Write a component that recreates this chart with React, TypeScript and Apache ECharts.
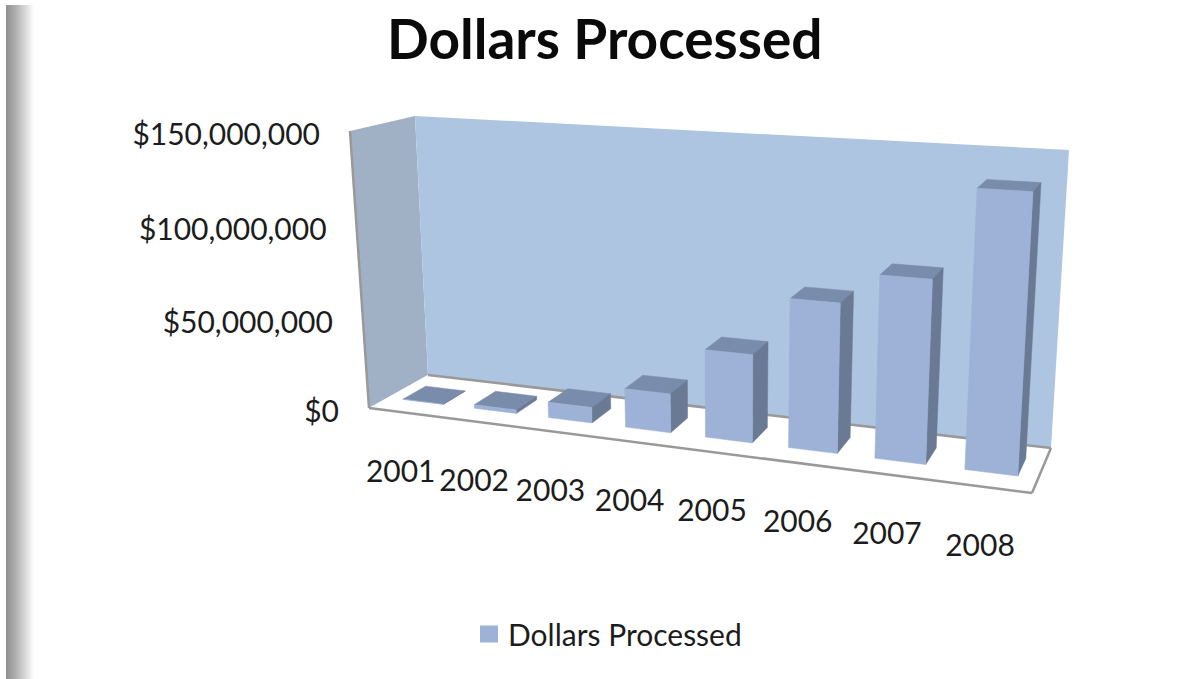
import React, { useEffect, useRef } from "react";
import * as echarts from "echarts";

const categories = ["2001", "2002", "2003", "2004", "2005", "2006", "2007", "2008"];
const dollarsProcessed = [100000, 2000000, 8500000, 21000000, 46500000, 77000000, 92500000, 137000000];
const valueTicks = [0, 50000000, 100000000, 150000000];
const valueTickLabels = ["$0", "$50,000,000", "$100,000,000", "$150,000,000"];
const seriesName = "Dollars Processed";

type Pt = [number, number];
const FRONT: Pt[] = [[369, 408], [1032, 493], [1050, 171], [350, 131]];
const BACK: Pt[] = [[428, 375], [1051, 448], [1069, 150], [415, 116]];
const GRID = { left: 100, top: 100, width: 800, height: 400 };
const FONT = "Lato, 'Open Sans', sans-serif";

function homography(q: Pt[]) {
  const [[x0, y0], [x1, y1], [x2, y2], [x3, y3]] = q;
  const dx1 = x1 - x2, dx2 = x3 - x2, sx = x0 - x1 + x2 - x3;
  const dy1 = y1 - y2, dy2 = y3 - y2, sy = y0 - y1 + y2 - y3;
  const den = dx1 * dy2 - dx2 * dy1;
  const g = (sx * dy2 - dx2 * sy) / den;
  const h = (dx1 * sy - sx * dy1) / den;
  const a = x1 - x0 + g * x1, b = x3 - x0 + h * x3;
  const d = y1 - y0 + g * y1, e = y3 - y0 + h * y3;
  return (u: number, v: number): Pt => {
    const z = g * u + h * v + 1;
    return [(a * u + b * v + x0) / z, (d * u + e * v + y0) / z];
  };
}
const hFront = homography(FRONT);
const hBack = homography(BACK);
function project(u: number, v: number, w: number): Pt {
  const f = hFront(u, v), b = hBack(u, v);
  return [f[0] + (b[0] - f[0]) * w, f[1] + (b[1] - f[1]) * w];
}
const toU = (px: number) => (px - GRID.left) / GRID.width;
const toV = (py: number) => (GRID.top + GRID.height - py) / GRID.height;

const BAR_RATIO = 0.57;
const W0 = 0.32, W1 = 0.71;

function renderFrame() {
  const wall = (pts: Pt[], fill: string) => ({ type: "polygon", shape: { points: pts }, style: { fill } });
  const line = (a: Pt, b: Pt) => ({
    type: "line",
    shape: { x1: a[0], y1: a[1], x2: b[0], y2: b[1] },
    style: { stroke: "#999999", lineWidth: 2.5 },
  });
  const p = project;
  return {
    type: "group",
    children: [
      wall([p(0, 0, 0), p(0, 0, 1), p(0, 1, 1), p(0, 1, 0)], "#a0b1c6"),
      wall([p(0, 0, 1), p(1, 0, 1), p(1, 1, 1), p(0, 1, 1)], "#aec5e1"),
      wall([p(0, 0, 0), p(1, 0, 0), p(1, 0, 1), p(0, 0, 1)], "#ffffff"),
      line(p(0, 1, 0), p(0, 0, 0)),
      line(p(0, 0, 0), p(1, 0, 0)),
      line(p(1, 0, 0), p(1, 0, 1)),
      line(p(0, 0, 1), p(1, 0, 1)),
    ],
  };
}

function renderBar(_: any, api: any) {
  const c = api.coord([api.value(0), api.value(1)]);
  const half = (api.size([1, 0])[0] * BAR_RATIO) / 2;
  const u0 = toU(c[0] - half), u1 = toU(c[0] + half), v = toV(c[1]);
  const face = (pts: Pt[], fill: string) => ({
    type: "polygon",
    shape: { points: pts },
    style: { fill, stroke: fill, lineWidth: 0.5 },
  });
  const p = project;
  return {
    type: "group",
    children: [
      face([p(u0, v, W0), p(u1, v, W0), p(u1, v, W1), p(u0, v, W1)], "#7a8cab"),
      face([p(u1, 0, W0), p(u1, 0, W1), p(u1, v, W1), p(u1, v, W0)], "#6a7a94"),
      face([p(u0, 0, W0), p(u1, 0, W0), p(u1, v, W0), p(u0, v, W0)], "#9db2d6"),
    ],
  };
}

function renderValueLabel(params: any, api: any) {
  const c = api.coord([0, api.value(0)]);
  const [x, y] = project(0, toV(c[1]), 0);
  return {
    type: "text",
    style: {
      text: valueTickLabels[params.dataIndex],
      x: x - 30,
      y: y + 2,
      align: "right",
      verticalAlign: "middle",
      fill: "#1c1c1c",
      font: `30px ${FONT}`,
    },
  };
}

function renderCategoryLabel(params: any, api: any) {
  const c = api.coord([params.dataIndex, 0]);
  const [x, y] = project(toU(c[0]), 0, 0);
  return {
    type: "text",
    style: {
      text: categories[params.dataIndex],
      x: x - 4,
      y: y + 57,
      align: "center",
      verticalAlign: "middle",
      fill: "#1c1c1c",
      font: `30px ${FONT}`,
    },
  };
}

export default function App() {
  const ref = useRef<HTMLDivElement>(null);
  useEffect(() => {
    const chart = echarts.init(ref.current!, undefined, { renderer: "svg" });
    chart.setOption({
      animation: false,
      backgroundColor: "#ffffff",
      title: {
        text: seriesName,
        left: 382,
        top: 5,
        textStyle: { fontFamily: FONT, fontWeight: "bold", fontSize: 55, color: "#0a0a0a" },
      },
      legend: {
        data: [{ name: seriesName, icon: "rect" }],
        left: 480,
        top: 619,
        padding: 0,
        itemWidth: 18,
        itemHeight: 17,
        selectedMode: false,
        textStyle: { fontFamily: FONT, fontSize: 30, color: "#1c1c1c", padding: [0, 0, 0, 5] },
      },
      grid: GRID,
      xAxis: { type: "category", data: categories, show: false },
      yAxis: { type: "value", min: 0, max: 150000000, interval: 50000000, show: false },
      graphic: [
        {
          type: "rect",
          shape: { x: 6, y: 5, width: 28, height: 674 },
          style: {
            fill: new echarts.graphic.LinearGradient(0, 0, 1, 0, [
              { offset: 0, color: "#8f8f8f" },
              { offset: 0.35, color: "#b0b0b0" },
              { offset: 1, color: "#ffffff" },
            ]),
          },
          silent: true,
        },
      ],
      series: [
        { type: "custom", name: "frame", silent: true, data: [[0, 0]], renderItem: renderFrame, z: 1 },
        {
          type: "custom",
          name: seriesName,
          silent: true,
          itemStyle: { color: "#9db2d6" },
          data: dollarsProcessed.map((v, i) => [i, v]),
          encode: { x: 0, y: 1 },
          renderItem: renderBar,
          z: 2,
        },
        {
          type: "custom",
          name: "valueLabels",
          silent: true,
          data: valueTicks.map((v) => [v]),
          encode: { y: 0 },
          renderItem: renderValueLabel,
          z: 3,
        },
        {
          type: "custom",
          name: "categoryLabels",
          silent: true,
          data: categories.map((_, i) => [i]),
          encode: { x: 0 },
          renderItem: renderCategoryLabel,
          z: 3,
        },
      ],
    });
    return () => chart.dispose();
  }, []);
  return <div ref={ref} style={{ position: "fixed", left: 0, top: 0, width: 1203, height: 679 }} />;
}
